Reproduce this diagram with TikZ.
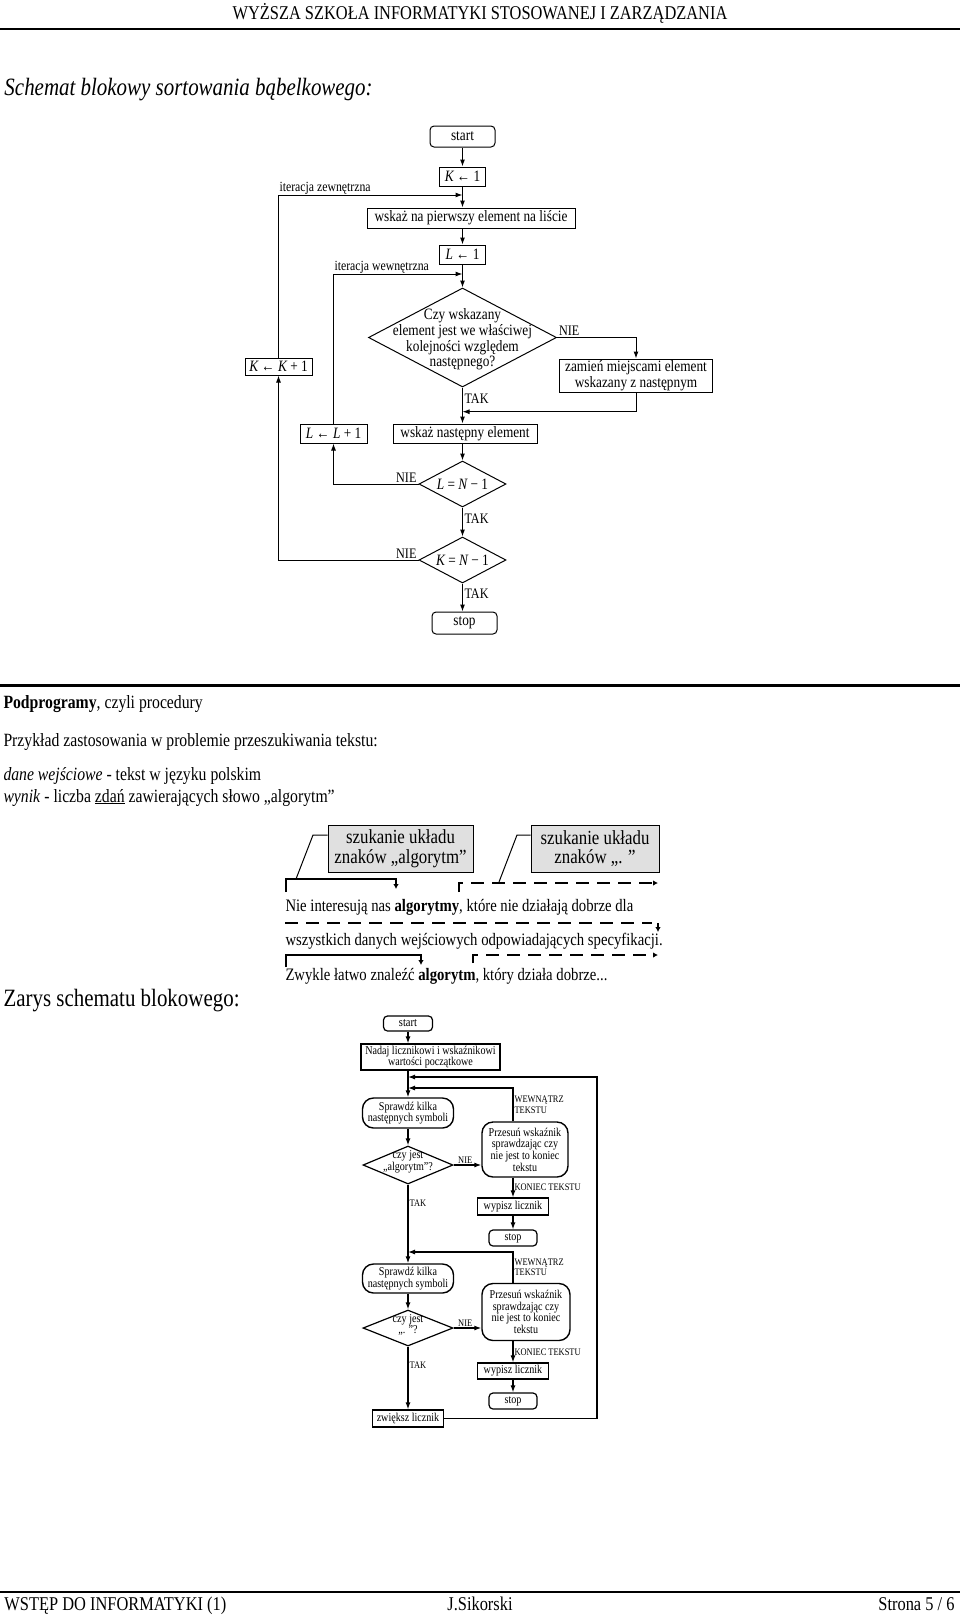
\documentclass[tikz,border=0pt]{standalone}
\usepackage{fontspec}
\setmainfont{Liberation Serif}[FakeStretch=0.841]
\usetikzlibrary{arrows.meta, shapes.geometric, positioning}

\tikzset{
  head/.style={font=\fontsize{19.5}{22}\selectfont, inner sep=0pt},
  body/.style={font=\fontsize{18.7}{22}\selectfont, inner sep=0pt, anchor=base west},
  big/.style={font=\fontsize{24.9}{28}\selectfont, inner sep=0pt, anchor=base west},
  flow/.style={font=\fontsize{15.8}{15.6}\selectfont},
  box/.style={draw, line width=1pt, inner sep=0pt, flow},
  term/.style={box, rounded corners=4pt},
  decision/.style={draw, diamond, aspect=1.9, line width=1pt, inner sep=0pt, flow},
  lbl/.style={font=\fontsize{14.5}{15}\selectfont, inner sep=1.5pt},
  note/.style={font=\fontsize{14}{14}\selectfont, inner sep=0pt, anchor=base west},
  graybox/.style={draw, fill=black!12, line width=1pt, align=center, inner sep=0pt, font=\fontsize{20}{19.5}\selectfont},
  quote/.style={font=\fontsize{17.5}{20}\selectfont, inner sep=0pt, anchor=base west},
  hit/.style={line width=2.3pt, -{Latex[length=5pt,width=5.5pt]}},
  miss/.style={hit, dash pattern=on 13pt off 8pt},
  sfont/.style={font=\fontsize{12}{11.7}\selectfont},
  sbox/.style={draw, line width=1.2pt, inner sep=0pt, sfont},
  sterm/.style={sbox, rounded corners=4pt},
  sdec/.style={draw, diamond, aspect=2.4, line width=1.2pt, inner sep=0pt},
  blob/.style={sbox, align=center, line width=1.4pt, rounded corners=11pt},
  slbl/.style={font=\fontsize{10}{10.5}\selectfont, inner sep=1pt},
  small/.style={line width=1.2pt, -{Latex[length=7pt,width=5pt]}}
}

\begin{document}
\begin{tikzpicture}[x=1pt,y=-1pt,->,>={Latex[length=7pt,width=5pt]},line width=1pt]
  \useasboundingbox (0,0) rectangle (960,1615);
  \fill[white] (0,0) rectangle (960,1615);

  \node[head, anchor=base] (school) at (480,19) {WYŻSZA SZKOŁA INFORMATYKI STOSOWANEJ I ZARZĄDZANIA};
  \draw[-, line width=2.5pt] (0,29) -- (960,29);
  \node[big] (title) at (4,95) {\itshape Schemat blokowy sortowania bąbelkowego:};

  \node[term, minimum width=65pt, minimum height=21pt] (start) at (462.5,136.5) {start};
  \node[box, minimum width=46pt, minimum height=19pt] (k1) at (462.5,176.5) {{\itshape K} ← 1};
  \node[box, minimum width=208pt, minimum height=20pt] (first) at (471,218) {wskaż na pierwszy element na liście};
  \node[box, minimum width=46pt, minimum height=19pt] (l1) at (462.5,254.5) {{\itshape L} ← 1};
  \node[decision, minimum width=188pt, minimum height=99pt] (order) at (462.5,337.5) {};
  \node[flow, align=center] (ordertext) at (462.5,339.5) {Czy wskazany\\element jest we właściwej\\kolejności względem\\następnego?};
  \node[box, minimum width=153pt, minimum height=33pt, align=center] (swap) at (636,375.5) {zamień miejscami element\\wskazany z następnym};
  \node[box, minimum width=144pt, minimum height=19pt] (next) at (465,433.5) {wskaż następny element};
  \node[box, minimum width=67pt, minimum height=17pt] (kinc) at (278.5,366.5) {{\itshape K} ← {\itshape K} + 1};
  \node[box, minimum width=67pt, minimum height=19pt] (linc) at (333.5,433.5) {{\itshape L} ← {\itshape L} + 1};
  \node[decision, minimum width=87pt, minimum height=46pt] (lend) at (462.5,484) {{\itshape L} = {\itshape N} − 1};
  \node[decision, minimum width=87pt, minimum height=46pt] (kend) at (462.5,560) {{\itshape K} = {\itshape N} − 1};
  \node[term, minimum width=65pt, minimum height=22pt] (stop) at (464.5,623) {stop};
  \node[note] (outerlbl) at (279,191.5) {iteracja zewnętrzna};
  \node[note] (innerlbl) at (334,270.5) {iteracja wewnętrzna};
  \coordinate (outer) at (462.5,195);
  \coordinate (inner) at (462.5,274);
  \coordinate (join) at (462.5,411.7);

  \draw (start) -- (k1);
  \draw (k1) -- (k1 |- first.north);
  \draw (first.south -| l1) -- (l1);
  \draw (l1) -- (order);
  \draw (order.east) node[lbl, above right] {NIE} -| (swap);
  \draw (swap.south) |- (join);
  \draw (order.south) -- node[lbl, right, pos=.3] {TAK} (order.south |- next.north);
  \draw (next.south -| lend) -- (lend);
  \draw (lend) -- node[lbl, right, pos=.4] {TAK} (kend);
  \draw (kend) -- node[lbl, right, pos=.37] {TAK} (kend |- stop.north);
  \draw (lend.west) node[lbl, above left] {NIE} -| (linc);
  \draw (kend.west) node[lbl, above left] {NIE} -| (kinc);
  \draw (kinc) |- (outer);
  \draw (linc) |- (inner);

  \draw[-, line width=3pt] (0,685) -- (960,685);
  \node[body] (sub) at (3,708) {\textbf{Podprogramy}, czyli procedury};
  \node[body] (example) at (3,746) {Przykład zastosowania w problemie przeszukiwania tekstu:};
  \node[body] (input) at (3,780) {\textit{dane wejściowe} - tekst w języku polskim};
  \node[body] (result) at (3,802) {\textit{wynik} - liczba \underline{zdań} zawierających słowo „algorytm”};

  \node[graybox, minimum width=145pt, minimum height=47pt] (find1) at (400.5,848.5) {szukanie układu\\znaków „algorytm”};
  \node[graybox, minimum width=128pt, minimum height=47pt] (find2) at (595,848.5) {szukanie układu\\znaków „. ”};
  \node[quote] (s1) at (285,911) {Nie interesują nas \textbf{algorytmy}, które nie działają dobrze dla};
  \node[quote] (s2) at (285,945) {wszystkich danych wejściowych odpowiadających specyfikacji.};
  \node[quote] (s3) at (285,980) {Zwykle łatwo znaleźć \textbf{algorytm}, który działa dobrze...};
  \draw[hit] (286,892) -- (286,879) -- (396,879) -- (396,889);
  \draw[-] (find1.west |- 0,835) -- (313,835) -- (296,879);
  \draw[miss] (459,892) -- (459,883) -- (658,883);
  \draw[-] (find2.west |- 0,835) -- (517,835) -- (499,882);
  \draw[miss, -] (285,923) -- (652,923);
  \draw[hit] (658,923) -- (658,932);
  \draw[hit] (286,967) -- (286,955) -- (421,955) -- (421,965);
  \draw[miss] (473,963) -- (473,955) -- (658,955);

  \node[big] (outline) at (3,1006.7) {Zarys schematu blokowego:};

  \node[sterm, minimum width=49pt, minimum height=15pt, font=\fontsize{12.5}{12}\selectfont] (sstart) at (408,1023.5) {start};
  \node[sbox, minimum width=139pt, minimum height=26pt, align=center] (init) at (430.5,1057) {Nadaj licznikowi i wskaźnikowi\\wartości początkowe};
  \node[blob, minimum width=91pt, minimum height=30pt] (scan1) at (408,1113) {Sprawdź kilka\\następnych symboli};
  \node[sdec, minimum width=90pt, minimum height=38pt] (is1) at (408,1165) {};
  \node[sfont, align=center] (is1text) at (408,1162) {czy jest\\„algorytm”?};
  \node[blob, minimum width=86pt, minimum height=55pt] (move1) at (525,1149.5) {Przesuń wskaźnik\\sprawdzając czy\\nie jest to koniec\\tekstu};
  \node[sbox, minimum width=71pt, minimum height=17pt] (out1) at (513,1206.5) {wypisz licznik};
  \node[sterm, minimum width=48pt, minimum height=16pt] (end1) at (513,1238) {stop};
  \node[blob, minimum width=91pt, minimum height=29pt] (scan2) at (408,1278.5) {Sprawdź kilka\\następnych symboli};
  \node[sdec, minimum width=90pt, minimum height=36pt] (is2) at (408,1328) {};
  \node[sfont, align=center] (is2text) at (408,1325) {czy jest\\„. ”?};
  \node[blob, minimum width=88pt, minimum height=57pt] (move2) at (526,1312) {Przesuń wskaźnik\\sprawdzając czy\\nie jest to koniec\\tekstu};
  \node[sbox, minimum width=71pt, minimum height=16pt] (out2) at (513,1371) {wypisz licznik};
  \node[sterm, minimum width=48pt, minimum height=16pt] (end2) at (513,1401) {stop};
  \node[sbox, minimum width=71pt, minimum height=17pt] (count) at (408,1418.5) {zwiększ licznik};
  \coordinate (ret0) at (408,1077);
  \coordinate (ret1) at (408,1088);
  \coordinate (ret2) at (408,1252);
  \coordinate (loop) at (597,1418.5);

  \draw[small] (sstart) -- (sstart |- init.north);
  \draw[small] (init.south -| scan1) -- (scan1);
  \draw[small] (scan1) -- (is1);
  \draw[small] (is1.east) node[slbl, above right, xshift=3pt] {NIE} -- (is1.east -| move1.west);
  \draw[small] (move1.north -| out1) -- node[slbl, right, align=left] {WEWNĄTRZ\\TEKSTU} (out1 |- ret1) -- (ret1);
  \draw[small] (move1.south -| out1) -- node[slbl, right] {KONIEC TEKSTU} (out1);
  \draw[small] (out1) -- (end1);
  \draw[small] (is1) -- node[slbl, right, pos=.24] {TAK} (scan2);
  \draw[small] (scan2) -- (is2);
  \draw[small] (is2.east) node[slbl, above right, xshift=3pt] {NIE} -- (is2.east -| move2.west);
  \draw[small] (move2.north -| out2) -- node[slbl, right, align=left] {WEWNĄTRZ\\TEKSTU} (out2 |- ret2) -- (ret2);
  \draw[small] (move2.south -| out2) -- node[slbl, right] {KONIEC TEKSTU} (out2);
  \draw[small] (out2) -- (end2);
  \draw[small] (is2) -- node[slbl, right, pos=.3] {TAK} (count);
  \draw[small] (count.east) -- (loop) |- (ret0);

  \draw[-, line width=2pt] (0,1592) -- (960,1592);
  \node[head, anchor=base west] (course) at (4,1610) {WSTĘP DO INFORMATYKI (1)};
  \node[head, anchor=base] (author) at (480,1610) {J.Sikorski};
  \node[head, anchor=base east] (page) at (955,1610) {Strona 5 / 6};
\end{tikzpicture}
\end{document}
